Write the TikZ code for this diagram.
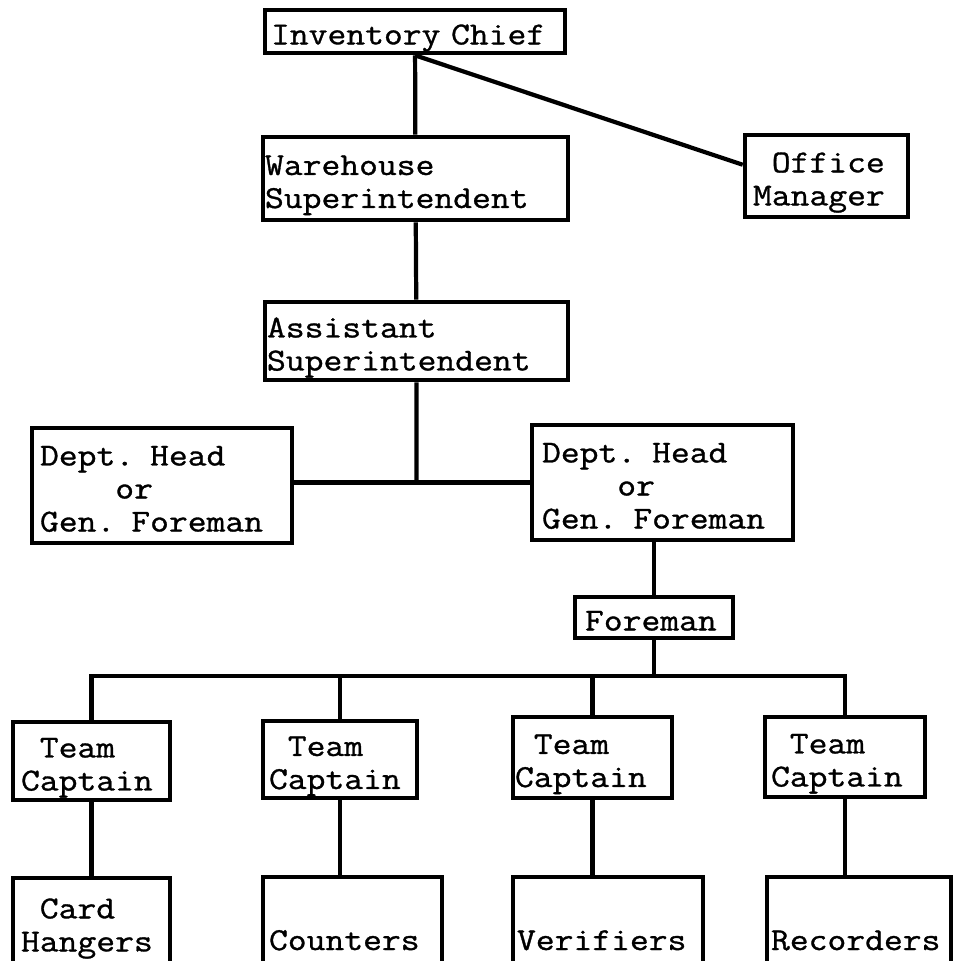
\documentclass[tikz,border=0pt]{standalone}
\usepackage{fontspec}
\newfontfamily\typewriter[FakeStretch=1.143, FakeBold=1]{Latin Modern Mono}
\usetikzlibrary{positioning, calc}
\newcommand\orgfont{\typewriter\fontsize{18.2pt}{18.8pt}\selectfont}
\newcommand\orgpad{\hphantom{0}}
\newcommand\typed[1]{\rule{0pt}{18.8pt}#1\rule[-4pt]{0pt}{4pt}}
\tikzset{
  post/.style n args={3}{rectangle, draw, line width=2.6pt, font=\orgfont,
    align=left, inner ysep=0pt, minimum height=#1, text width=#2, inner xsep=#3},
  tie/.style={line width=2.4pt},
}
\begin{document}
\begin{tikzpicture}[x=0.02cm, y=-0.02cm]
  \useasboundingbox (0,0) rectangle (953,961);
  \node[post={0.86cm}{5.76cm}{0.12cm}] (chief) at (415,31.5) {\typed{Inventory~Chief}};
  \node[post={1.66cm}{6.02cm}{0.04cm}] (ware) at (415.5,178.5) {\typed{Warehouse\\Superintendent}};
  \node[post={1.64cm}{2.94cm}{0.16cm}] (office) at (826.5,176) {\typed{\orgpad Office\\Manager}};
  \node[post={1.56cm}{5.98cm}{0.04cm}] (asst) at (416.5,341) {\typed{Assistant\\Superintendent}};
  \node[post={2.3cm}{4.88cm}{0.16cm}] (deptL) at (162,485.5) {\typed{Dept. Head\\\orgpad\orgpad\orgpad\orgpad or\\Gen. Foreman}};
  \node[post={2.3cm}{4.82cm}{0.2cm}] (deptR) at (662.5,482.5) {\typed{Dept. Head\\\orgpad\orgpad\orgpad\orgpad or\\Gen. Foreman}};
  \node[post={0.82cm}{2.76cm}{0.2cm}] (fore) at (654,617.5) {\typed{Foreman}};
  \node[post={1.56cm}{2.82cm}{0.16cm}] (capt1) at (91.5,761) {\typed{\orgpad Team\\Captain}};
  \node[post={1.54cm}{2.84cm}{0.12cm}] (capt2) at (340,759.5) {\typed{\orgpad Team\\Captain}};
  \node[post={1.62cm}{3.1cm}{0.04cm}] (capt3) at (592.5,757.5) {\typed{\orgpad Team\\Captain}};
  \node[post={1.6cm}{2.96cm}{0.12cm}] (capt4) at (845,757) {\typed{\orgpad Team\\Captain}};
  \node[post={1.76cm}{2.82cm}{0.16cm}] (crew1) at (91.5,922) {\typed{\orgpad Card\\Hangers}};
  \node[post={1.74cm}{3.34cm}{0.12cm}] (crew2) at (352.5,920.5) {\typed{\\Counters}};
  \node[post={1.74cm}{3.64cm}{0.08cm}] (crew3) at (608,920.5) {\typed{\\Verifiers}};
  \node[post={1.74cm}{3.52cm}{0.08cm}] (crew4) at (859,920.5) {\typed{\\Recorders}};
  \coordinate (split) at (asst.south |- deptR.west);
  \coordinate[below=0.72cm of fore] (rail);
  \draw[tie] (chief) -- (ware) (ware) -- (asst) (asst) -- (split);
  \draw[tie] (chief.south) -- ($(office.north west)!0.37!(office.south west)$);
  \draw[tie] (deptL.east |- split) -- (deptR.west);
  \draw[tie] (fore) -- (fore |- deptR.south);
  \draw[tie] (fore) -- (rail);
  \foreach \i in {1,...,4} {
    \draw[tie] (capt\i.north) |- (rail);
    \draw[tie] (capt\i) -- (capt\i |- crew\i.north);
  }
\end{tikzpicture}
\end{document}
